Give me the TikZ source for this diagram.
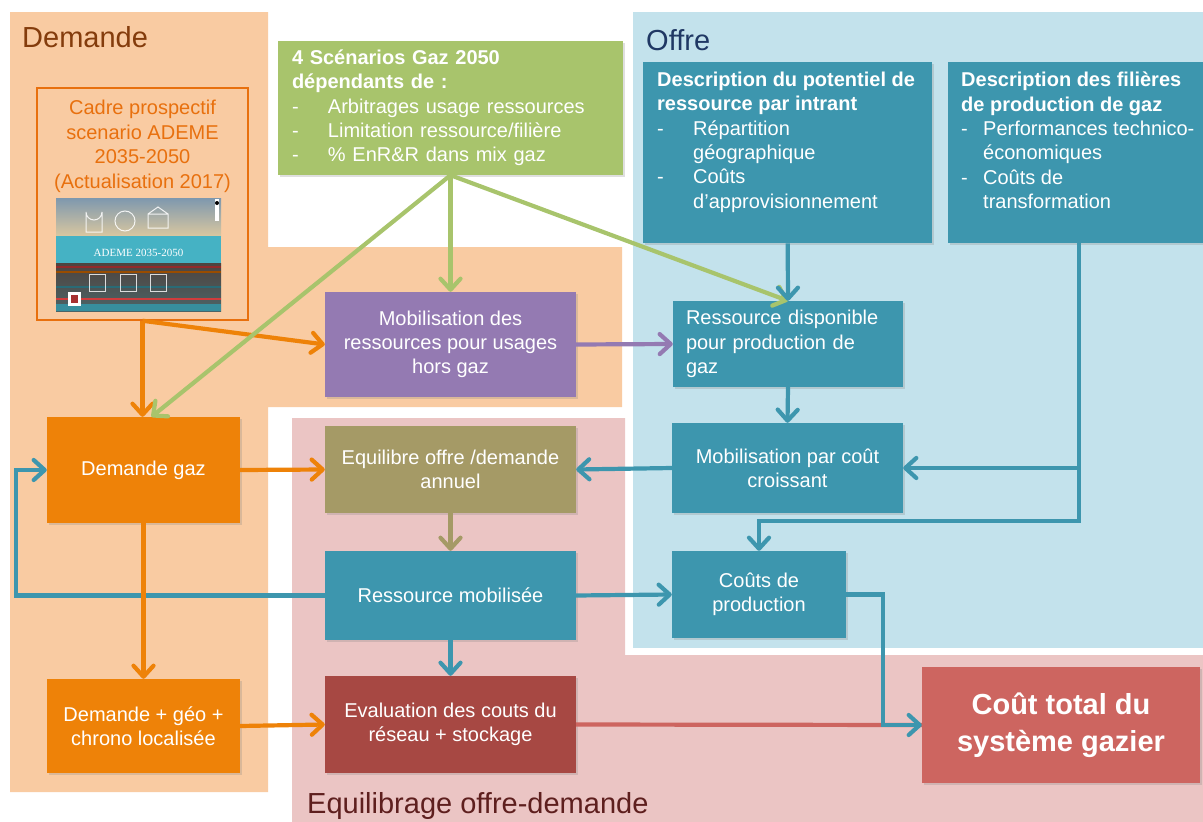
\documentclass[tikz,border=0pt]{standalone}
\usepackage{fontspec}
\setmainfont{Liberation Sans}
\newfontfamily\couvfont{Liberation Serif}
\usetikzlibrary{arrows.meta,shadows,calc}

\definecolor{demfond}{HTML}{F9CBA2}
\definecolor{offfond}{HTML}{C3E2EC}
\definecolor{eqfond}{HTML}{EBC5C4}
\definecolor{vert}{HTML}{A8C46C}
\definecolor{bleu}{HTML}{3D96AE}
\definecolor{violet}{HTML}{947AB2}
\definecolor{kaki}{HTML}{A59A66}
\definecolor{orangeA}{HTML}{EE8208}
\definecolor{rougefonce}{HTML}{A74843}
\definecolor{rougetot}{HTML}{CD6560}
\definecolor{titredem}{HTML}{843C0C}
\definecolor{titreoff}{HTML}{203864}
\definecolor{titreeq}{HTML}{5E1F1E}
\definecolor{cadreor}{HTML}{E8700E}
\definecolor{couvhaut}{HTML}{7E98AE}
\definecolor{couvsable}{HTML}{D9C7A0}
\definecolor{couvbleu}{HTML}{45B2C4}
\definecolor{couvfonce}{HTML}{4E433F}
\definecolor{couvrouge}{HTML}{D03C3C}

\newcommand\tiret[1][36pt]{\makebox[#1][l]{-}}

\tikzset{
    boite/.style={rectangle, inner sep=0pt, text=white, align=center,
            font=\fontsize{20}{24.3}\selectfont,
            drop shadow={shadow xshift=1.5pt, shadow yshift=-2pt, opacity=0.25}},
    fleche/.style={line width=4.2pt, -{Straight Barb[length=11pt,width=20pt,round]}},
    titre/.style={font=\fontsize{29}{34}\selectfont, anchor=base west, inner sep=0pt}
}

\begin{document}
\begin{tikzpicture}[x=1pt,y=-1pt]
    \useasboundingbox (0,0) rectangle (1203,822);
    \fill[demfond] (10,12) -- (268,12) -- (268,247) -- (622,247) -- (622,407) -- (268,407) -- (268,792) -- (10,792) -- cycle;
    \fill[offfond] (633,12) rectangle (1203,648);
    \fill[eqfond] (292,418) -- (625,418) -- (625,655) -- (1203,655) -- (1203,822) -- (292,822) -- cycle;

    \node[titre, text=titredem] (tdem) at (22,47) {Demande};
    \node[titre, text=titreoff] (toff) at (646,50) {Offre};
    \node[titre, text=titreeq] (teq) at (307,813) {Equilibrage offre-demande};

    % cadre ADEME
    \node[draw=cadreor, line width=1.5pt, minimum width=211pt, minimum height=232pt, inner sep=0pt] (cadre) at (142.5,204) {};
    \node[anchor=north, inner sep=0pt, align=center, text=cadreor, font=\fontsize{20}{24.5}\selectfont] (cadretxt) at (142.5,100)
        {Cadre prospectif\\scenario ADEME\\2035-2050\\(Actualisation 2017)};
    \begin{scope}
        \shade[top color=couvhaut, bottom color=couvsable] (56,198) rectangle (221,236);
        \fill[couvbleu] (56,236) rectangle (221,263);
        \shade[top color=couvfonce, bottom color=couvfonce!70!couvbleu] (56,263) rectangle (221,311);
        \foreach \yy/\cc in {266/couvrouge!70!black, 271/orange!60!black, 286/couvbleu!60!black, 298/couvrouge} {
                \fill[\cc] (56,\yy) rectangle (221,\yy+2);
            }
        \fill[couvbleu!80!black] (56,304) rectangle (221,311);
        \draw[white, line width=1pt, opacity=0.85] (86,232) -- (86,212) arc[start angle=180, end angle=0, radius=8] -- (102,232) -- cycle;
        \draw[white, line width=1pt, opacity=0.85] (125,221) circle (10);
        \draw[white, line width=1pt, opacity=0.85] (148,228) rectangle (168,214) (148,214) -- (158,207) -- (168,214);
        \foreach \xx in {97,128,158} {
                \draw[white, line width=1pt, opacity=0.8] (\xx-8,274) rectangle (\xx+8,291);
            }
        \node[font=\couvfont\fontsize{11}{12}\selectfont, text=white, inner sep=0pt] (couvtxt) at (138.5,253) {ADEME 2035-2050};
        \fill[white] (68,292) rectangle (81,306);
        \fill[couvrouge!80!black] (71,295) rectangle (78,303);
        \fill[white] (215,199) rectangle (219,221);
        \fill[black] (217,203) circle (2);
    \end{scope}

    % boites
    \node[boite, fill=vert, text width=317pt, inner xsep=14pt, minimum height=134pt, align=left] (scen) at (450.5,108)
        {\textbf{4 Scénarios Gaz 2050}\\\textbf{dépendants de :}\\\tiret Arbitrages usage ressources\\\tiret Limitation ressource/filière\\\tiret \% EnR\&R dans mix gaz};
    \node[boite, fill=bleu, anchor=north west, inner xsep=14pt, inner ysep=10pt] (desc1) at (643,62)
        {\parbox[t][161pt][t]{261pt}{\raggedright\textbf{Description du potentiel de}\\\textbf{ressource par intrant}\\\tiret Répartition\\\hspace*{36pt}géographique\\\tiret Coûts\\\hspace*{36pt}d’approvisionnement}};
    \node[boite, fill=bleu, anchor=north west, inner xsep=13pt, inner ysep=10pt] (desc2) at (948,62)
        {\parbox[t][161pt][t]{235pt}{\raggedright\textbf{Description des filières}\\\textbf{de production de gaz}\\\tiret[22pt]Performances technico-\\\hspace*{22pt}économiques\\\tiret[22pt]Coûts de\\\hspace*{22pt}transformation}};
    \node[boite, fill=violet, minimum width=251pt, minimum height=105pt] (mobres) at (450.5,344.5) {Mobilisation des\\ressources pour usages\\hors gaz};
    \node[boite, fill=bleu, text width=204pt, inner xsep=13pt, minimum height=86pt, align=left] (resdisp) at (788,344) {Ressource disponible\\pour production de\\gaz};
    \node[boite, fill=orangeA, minimum width=193pt, minimum height=106pt] (demgaz) at (143.5,470) {Demande gaz};
    \node[boite, fill=kaki, minimum width=251pt, minimum height=87pt] (equil) at (450.5,469.5) {Equilibre offre /demande\\annuel};
    \node[boite, fill=bleu, minimum width=231pt, minimum height=90pt] (mobcout) at (787.5,468) {Mobilisation par coût\\croissant};
    \node[boite, fill=bleu, minimum width=251pt, minimum height=89pt] (resmob) at (450.5,595.5) {Ressource mobilisée};
    \node[boite, fill=bleu, minimum width=174pt, minimum height=87pt] (coutprod) at (759,594.5) {Coûts de\\production};
    \node[boite, fill=orangeA, minimum width=193pt, minimum height=94pt] (demgeo) at (143.5,726) {Demande + géo +\\chrono localisée};
    \node[boite, fill=rougefonce, minimum width=251pt, minimum height=97pt] (eval) at (450.5,724.5) {Evaluation des couts du\\réseau + stockage};
    \node[boite, fill=rougetot, minimum width=278pt, minimum height=116pt, font=\bfseries\fontsize{29}{37}\selectfont] (total) at (1061,725) {Coût total du\\système gazier};

    % fleches
    \draw[fleche, orangeA] (cadre.south) -- (cadre.south |- demgaz.north);
    \draw[fleche, orangeA] (cadre.south) -- (mobres.west);
    \draw[fleche, vert] (scen.south) -- (mobres.north);
    \draw[fleche, vert] (scen.south) -- ($(demgaz.north)+(8,0)$);
    \draw[fleche, vert] (scen.south) -- (resdisp.north);
    \draw[fleche, violet] (mobres.east) -- (resdisp.west);
    \draw[fleche, bleu] (desc1.south) -- (resdisp.north);
    \draw[fleche, bleu] (resdisp.south) -- (mobcout.north);
    \draw[fleche, bleu] (desc2.south) |- ($(coutprod.north)+(0,-30)$) -- (coutprod.north);
    \draw[fleche, bleu] (desc2.south |- mobcout.east) -- (mobcout.east);
    \draw[fleche, bleu] (mobcout.west) -- (equil.east);
    \draw[fleche, kaki] (equil.south) -- (resmob.north);
    \draw[fleche, orangeA] (demgaz.east) -- (equil.west);
    \draw[fleche, bleu] (resmob.west) -| ($(demgaz.west)+(-31,0)$) -- (demgaz.west);
    \draw[fleche, orangeA] (demgaz.south) -- (demgeo.north);
    \draw[fleche, bleu] (resmob.east) -- (coutprod.west);
    \draw[fleche, bleu] (resmob.south) -- (eval.north);
    \draw[fleche, orangeA] (demgeo.east) -- (eval.west);
    \draw[line width=4.2pt, rougetot] (eval.east) -- (total.west);
    \draw[fleche, bleu] (coutprod.east) -- ++(37,0) |- (total.west);
\end{tikzpicture}
\end{document}
